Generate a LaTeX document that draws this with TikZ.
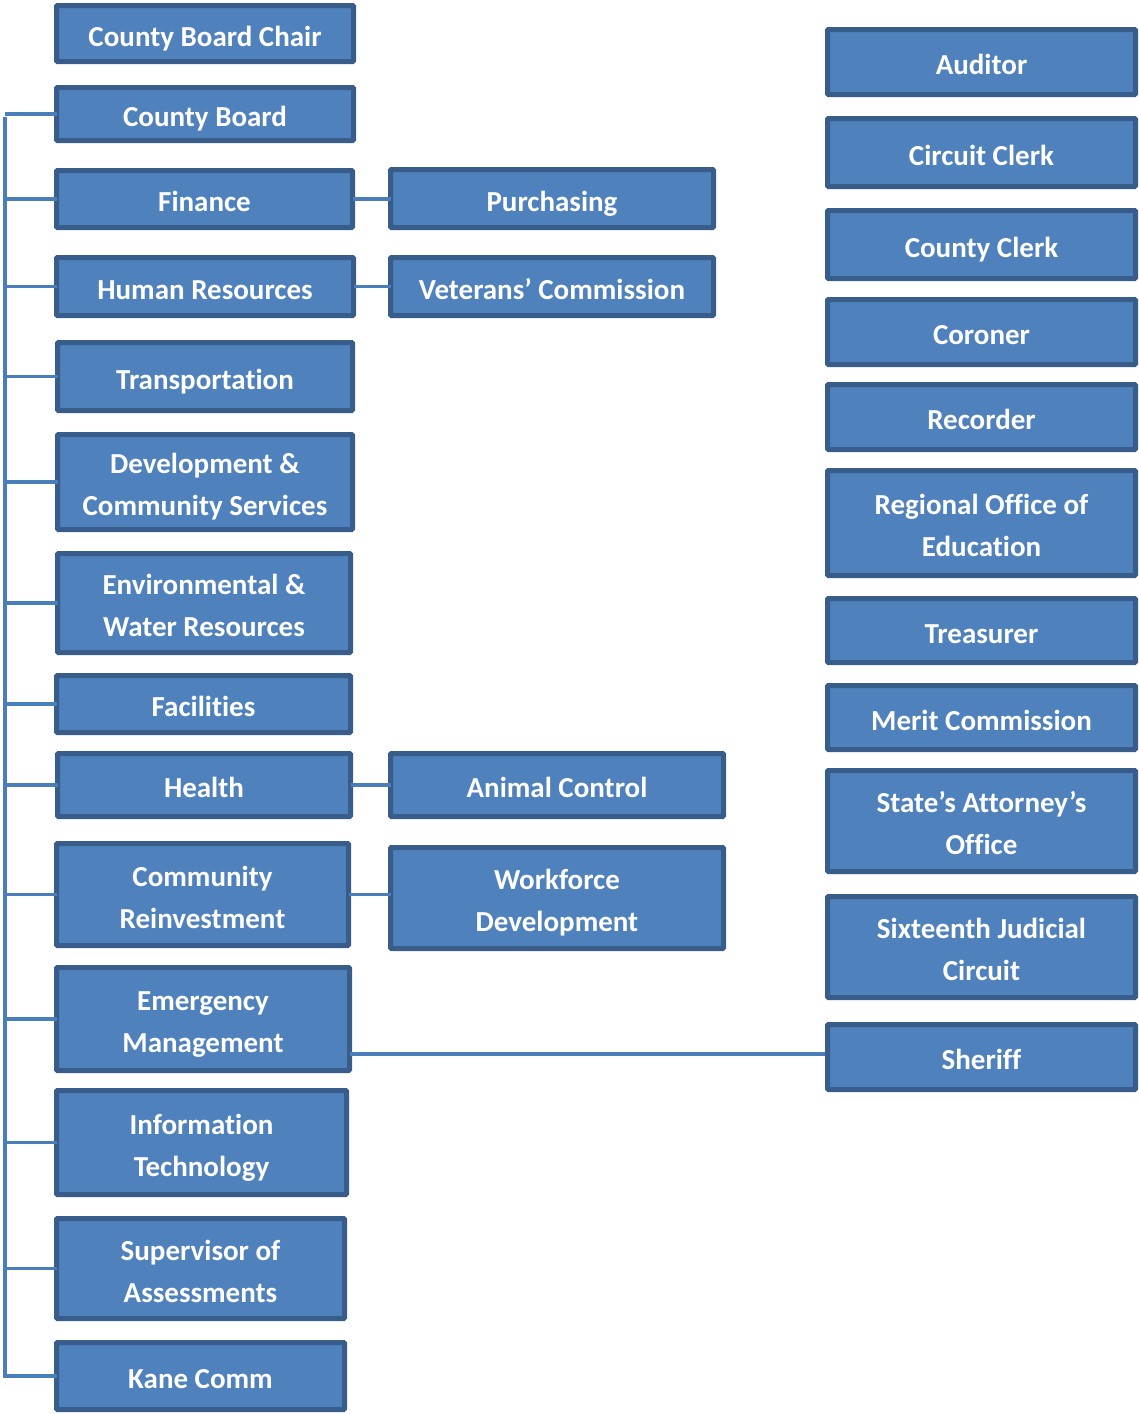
\documentclass[tikz,border=0pt]{standalone}
\usepackage{fontspec}
\setmainfont{Carlito}[Ligatures={NoCommon}]
\definecolor{boxfill}{HTML}{4F81BD}
\definecolor{boxline}{HTML}{385D8A}
\definecolor{connline}{HTML}{4A7EBB}
\newcommand\st{\rule[-7.5pt]{0pt}{40.5pt}}
\newcommand\br{\\\st}
\newcommand\nb{\kern0pt{}}
\tikzset{
  obox/.style={draw=boxline, fill=boxfill, line width=5pt, inner sep=0pt, outer sep=0pt,
    text=white, font=\fontsize{29}{42}\selectfont\bfseries, align=center, rounded corners=1pt},
  conn/.style={draw=connline, line width=3.3pt}
}
\newcommand\orgbox[6]{%
  \node[obox, minimum width={#4-#2-5}, minimum height={#5-#3-5}]
    (#1) at ({(#2+#4)/2},{(#3+#5)/2}) {\st #6};}
\begin{document}
\begin{tikzpicture}[x=1pt,y=-1pt]
\useasboundingbox (0,0) rectangle (1139,1414);
% left column
\orgbox{chair}{54}{3}{356}{64}{County Board Chair}
\orgbox{cb}{54}{85}{356}{143}{County Board}
\orgbox{fin}{54}{168}{355}{230}{Finance}
\orgbox{hr}{54}{255}{356}{318}{Human Resources}
\orgbox{trans}{55}{340}{355}{413}{Transportat\nb ion}
\orgbox{dev}{55}{432}{355}{532}{Development \&\br Community Services}
\orgbox{env}{55}{551}{353}{655}{Environmental \&\br Water Resources}
\orgbox{fac}{54}{673}{353}{735}{Facilit\nb ies}
\orgbox{health}{55}{751}{353}{819}{Health}
\orgbox{cri}{54}{841}{351}{948}{Community\br Reinvestment}
\orgbox{em}{54}{965}{352}{1073}{Emergency\br Management}
\orgbox{it}{54}{1088}{349}{1197}{Informat\nb ion\br Technology}
\orgbox{soa}{54}{1216}{347}{1321}{Supervisor of\br Assessments}
\orgbox{kc}{54}{1340}{347}{1412}{Kane Comm}
% middle column
\orgbox{pur}{388}{167}{716}{230}{Purchasing}
\orgbox{vet}{388}{255}{716}{318}{Veterans’ Commission}
\orgbox{ac}{388}{751}{726}{819}{Animal Control}
\orgbox{wd}{388}{845}{726}{951}{Workforce\br Development}
% right column
\orgbox{aud}{825}{27}{1138}{97}{Auditor}
\orgbox{cc}{825}{116}{1138}{189}{Circuit Clerk}
\orgbox{cyc}{825}{208}{1138}{281}{County Clerk}
\orgbox{cor}{825}{297}{1138}{367}{Coroner}
\orgbox{rec}{825}{382}{1138}{452}{Recorder}
\orgbox{roe}{825}{468}{1138}{578}{Regional Of\nb f\nb ice of\br Educat\nb ion}
\orgbox{tre}{825}{596}{1138}{665}{Treasurer}
\orgbox{mc}{825}{683}{1138}{752}{Merit Commission}
\orgbox{sao}{825}{768}{1138}{874}{State’s Attorney’s\br Of\nb f\nb ice}
\orgbox{sjc}{825}{894}{1138}{1000}{Sixteenth Judicial\br Circuit}
\orgbox{sh}{825}{1022}{1138}{1092}{Sherif\nb f}
% connectors
\coordinate (vtop) at (5,117);
\coordinate (vbot) at (5,1378);
\coordinate (shl) at (825,1054);
\draw[conn] (vtop) -- (vbot);
\foreach \n in {cb,fin,hr,trans,dev,env,fac,health,cri,em,it,soa,kc}
  \draw[conn] (\n.west -| vtop) -- (\n.west);
\draw[conn] (fin.east) -- (fin.east -| pur.west);
\draw[conn] (hr.east) -- (hr.east -| vet.west);
\draw[conn] (health.east) -- (health.east -| ac.west);
\draw[conn] (cri.east) -- (cri.east -| wd.west);
\draw[conn] (shl -| em.east) -- (shl);
\end{tikzpicture}
\end{document}
